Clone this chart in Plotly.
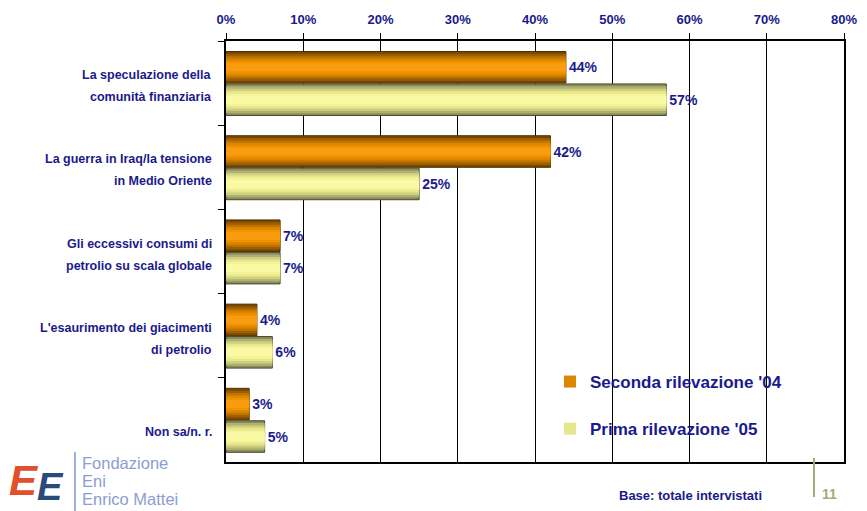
import plotly.graph_objects as go

categories = [
    "La speculazione della<br>comunità finanziaria",
    "La guerra in Iraq/la tensione<br>in Medio Oriente",
    "Gli eccessivi consumi di<br>petrolio su scala globale",
    "L'esaurimento dei giacimenti<br>di petrolio",
    "Non sa/n. r.",
]
seconda_04 = [44, 42, 7, 4, 3]
prima_05 = [57, 25, 7, 6, 5]
series_names = ["Seconda rilevazione '04", "Prima rilevazione '05"]
x_ticks = [0, 10, 20, 30, 40, 50, 60, 70, 80]

NAVY = "#1A1A8C"
FONT = "Liberation Sans, Arial, sans-serif"

# page has an 8px body margin; figure is sized so the plot lands where the reference has it
OFF = 8
W, H = 867 - OFF, 511 - OFF
PL, PR, PT, PB = 226, 844, 41, 462  # plot area in page pixels


def px(x):
    return (x - PL) / (PR - PL)


def py(y):
    return (PB - y) / (PB - PT)


orange_layers = ["#7A4800", "#9C5E00", "#C07400", "#DC8600", "#F09200", "#FA9C10"]
yellow_layers = ["#8C8C5A", "#B0B070", "#CFCF80", "#E6E68C", "#F4F496", "#FAFAA4"]
fractions = [1.0, 0.85, 0.7, 0.55, 0.4, 0.25]

fig = go.Figure()

bar_w = 0.375
specs = [
    (seconda_04, -0.375, orange_layers, "#4A3000", series_names[0], "g1"),
    (prima_05, 0.01, yellow_layers, "#4A4A30", series_names[1], "g2"),
]
for vals, base_off, colors, line_col, name, grp in specs:
    for i, (f, c) in enumerate(zip(fractions, colors)):
        w = bar_w * f
        off = base_off + bar_w * (1 - f) / 2
        outer = i == 0
        fig.add_trace(go.Bar(
            y=categories, x=vals, orientation="h",
            width=[w] * len(vals), offset=[off] * len(vals),
            marker=dict(color=c, line=dict(color=line_col if outer else c, width=1 if outer else 0)),
            text=[f"<b>{v}%</b>" for v in vals] if outer else None,
            textposition="outside" if outer else "none",
            textfont=dict(family=FONT, size=14, color=NAVY),
            cliponaxis=False,
            name=f"<b>{name}</b>", legendgroup=grp,
            showlegend=(i == 3),
            hoverinfo="skip",
        ))

fig.update_layout(
    width=W, height=H,
    margin=dict(l=PL - OFF, r=(OFF + W) - PR, t=PT - OFF, b=(OFF + H) - PB, pad=0,
                autoexpand=False),
    paper_bgcolor="white", plot_bgcolor="white",
    barmode="overlay",
    font=dict(family=FONT, color=NAVY),
    xaxis=dict(
        range=[0, 80], side="top", tickmode="array", tickvals=x_ticks,
        ticktext=[f"<b>{v}%</b>" for v in x_ticks],
        ticks="outside", ticklen=6, tickcolor="black", tickwidth=1,
        tickfont=dict(family=FONT, size=13, color=NAVY),
        ticklabelstandoff=4, automargin=False,
        showgrid=True, gridcolor="black", gridwidth=1, zeroline=False,
        showline=True, mirror=True, linecolor="black", linewidth=1.5,
    ),
    yaxis=dict(
        type="category", range=[len(categories) - 0.5, -0.5], autorange=False,
        tickson="boundaries", automargin=False,
        ticks="outside", ticklen=6, tickcolor="black",
        showticklabels=False,
        showgrid=False, zeroline=False,
        showline=True, mirror=True, linecolor="black", linewidth=1.5,
    ),
    legend=dict(
        x=px(550), y=py(364), xanchor="left", yanchor="top",
        bgcolor="rgba(0,0,0,0)", traceorder="grouped", tracegroupgap=22,
        font=dict(family=FONT, size=17, color=NAVY),
        itemwidth=30,
    ),
)

# category labels as separate lines (wider line spacing like the reference)
for cat in categories:
    lines = cat.split("<br>")
    shifts = [8, -14] if len(lines) == 2 else [-12]
    for ln, sh in zip(lines, shifts):
        fig.add_annotation(xref="paper", yref="y", x=px(214), y=cat, yshift=sh,
                           xanchor="right", yanchor="middle", text=f"<b>{ln}</b>",
                           showarrow=False,
                           font=dict(family=FONT, size=12.5, color=NAVY))

fig.add_annotation(xref="paper", yref="paper", x=px(690), y=py(495),
                   xanchor="center", yanchor="middle",
                   text="<b>Base: totale intervistati</b>", showarrow=False,
                   font=dict(family=FONT, size=13, color=NAVY))
fig.add_annotation(xref="paper", yref="paper", x=px(829), y=py(494),
                   xanchor="center", yanchor="middle",
                   text="<b>11</b>", showarrow=False,
                   font=dict(family=FONT, size=14, color="#A8A878"))
fig.add_shape(type="line", xref="paper", yref="paper",
              x0=px(814), x1=px(814), y0=py(458), y1=py(497),
              line=dict(color="#A8A878", width=2))

# Logo
fig.add_shape(type="line", xref="paper", yref="paper",
              x0=px(75), x1=px(75), y0=py(452), y1=py(515),
              line=dict(color="#A0B0DC", width=2))
for txt, yy in [("Fondazione", 463), ("Eni", 481), ("Enrico Mattei", 499)]:
    fig.add_annotation(xref="paper", yref="paper", x=px(80), y=py(yy),
                       xanchor="left", yanchor="middle", text=txt, showarrow=False,
                       font=dict(family="Liberation Sans, Arial", size=16.5, color="#8C9DD0"))
fig.add_annotation(xref="paper", yref="paper", x=px(24), y=py(481),
                   xanchor="center", yanchor="middle",
                   text="<b><i>E</i></b>", showarrow=False,
                   font=dict(family=FONT, size=42, color="#E0502A"))
fig.add_annotation(xref="paper", yref="paper", x=px(50), y=py(487),
                   xanchor="center", yanchor="middle",
                   text="<b><i>E</i></b>", showarrow=False,
                   font=dict(family=FONT, size=38, color="#2A4A7A"))

fig.write_html("out.html")
